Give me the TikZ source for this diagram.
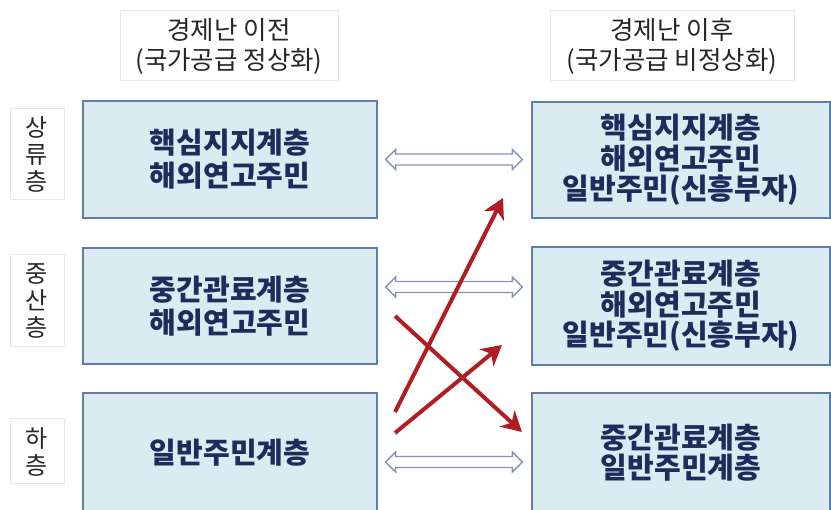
\documentclass[tikz,border=0pt]{standalone}
\usepackage{fontspec}
\setmainfont{Noto Sans CJK KR}
\usetikzlibrary{arrows.meta,calc}
\definecolor{boxfill}{HTML}{DAEBF2}
\definecolor{boxline}{HTML}{5E7EA8}
\definecolor{navy}{HTML}{1F2B5B}
\definecolor{hdrline}{HTML}{DCEEF5}
\definecolor{hdrtext}{HTML}{262626}
\definecolor{dblblue}{HTML}{8595B0}
\definecolor{redarr}{HTML}{B01E24}
\tikzset{
  mainbox/.style={draw=boxline, line width=1.2pt, fill=boxfill, inner sep=0pt, align=center,
    text=navy, font=\bfseries\fontsize{29}{33}\selectfont},
  rightbox/.style={mainbox, font=\bfseries\fontsize{29}{30.5}\selectfont},
  hdrbox/.style={draw=hdrline, line width=1pt, fill=white, inner sep=0pt, align=center,
    text=hdrtext, font=\fontsize{25.5}{30}\selectfont, minimum width=218, minimum height=70},
  sidebox/.style={draw=hdrline, line width=1pt, fill=white, inner sep=0pt, align=center,
    text=hdrtext, font=\fontsize{24}{27}\selectfont, minimum width=54},
  dblarrow/.style={draw=dblblue, line width=1.4pt, fill=white, line join=miter},
  redarrow/.style={draw=redarr, line width=4pt, -{Stealth[length=20pt,width=22pt,inset=6pt]}}
}
% hollow double-headed arrow between two points on the same level
\newcommand{\hollowdbl}[2]{%
  \draw[dblarrow] let \p1=(#1), \p2=(#2) in
    (\x1,\y1) -- (\x1+10pt,\y1+10pt) -- (\x1+10pt,\y1+5.5pt) -- (\x2-10pt,\y1+5.5pt)
    -- (\x2-10pt,\y1+10pt) -- (\x2,\y1) -- (\x2-10pt,\y1-10pt) -- (\x2-10pt,\y1-5.5pt)
    -- (\x1+10pt,\y1-5.5pt) -- (\x1+10pt,\y1-10pt) -- cycle;}
\begin{document}
\begin{tikzpicture}[x=1pt,y=-1pt]
\useasboundingbox (0,0) rectangle (831,510);
% headers
\node[hdrbox] (h1) at (229,46) {경제난 이전\\(국가공급 정상화)};
\node[hdrbox, minimum width=244] (h2) at (672,46) {경제난 이후\\(국가공급 비정상화)};
% side labels
\node[sidebox, minimum height=91] (s1) at (37,154.5) {상\\류\\층};
\node[sidebox, minimum height=92] (s2) at (37,301) {중\\산\\층};
\node[sidebox, minimum height=65] (s3) at (37,451.5) {하\\층};
% left boxes
\node[mainbox, minimum width=294, minimum height=117] (L1) at (230,159.5) {핵심지지계층\\해외연고주민};
\node[mainbox, minimum width=294, minimum height=116] (L2) at (230,306) {중간관료계층\\해외연고주민};
\node[mainbox, minimum width=294, minimum height=119] (L3) at (230,452.5) {일반주민계층};
% right boxes
\node[rightbox, minimum width=298, minimum height=116] (R1) at (681,160) {핵심지지계층\\해외연고주민\\일반주민(신흥부자)};
\node[rightbox, minimum width=298, minimum height=118] (R2) at (681,306) {중간관료계층\\해외연고주민\\일반주민(신흥부자)};
\node[rightbox, minimum width=298, minimum height=119] (R3) at (681,452.5) {중간관료계층\\일반주민계층};
% double arrows
\coordinate (d1a) at ($(L1.east)+(8,0)$);
\coordinate (d1b) at ($(R1.west)+(-9,0)$);
\coordinate (d2a) at ($(L2.east)+(8,-19)$);
\coordinate (d2b) at ($(R2.west)+(-9,-19)$);
\coordinate (d3a) at ($(L3.east)+(8,9.5)$);
\coordinate (d3b) at ($(R3.west)+(-9,9.5)$);
\hollowdbl{d1a}{d1b}
\hollowdbl{d2a}{d2b}
\hollowdbl{d3a}{d3b}
% red arrows
\coordinate (a1s) at (395,412);
\coordinate (a1e) at (503,198);
\coordinate (a2s) at (395,433);
\coordinate (a2e) at (502,345);
\coordinate (a3s) at (395,316);
\coordinate (a3e) at (522,432);
\draw[redarrow] (a1s) -- (a1e);
\draw[redarrow] (a2s) -- (a2e);
\draw[redarrow] (a3s) -- (a3e);
\end{tikzpicture}
\end{document}
